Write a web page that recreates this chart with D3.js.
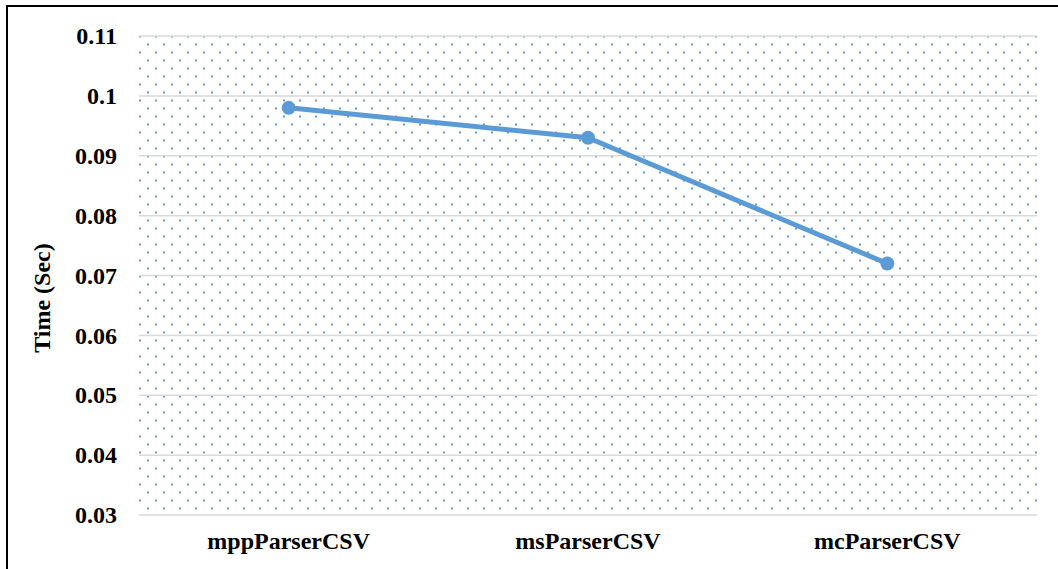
<!DOCTYPE html>
<html>
<head>
    <title>Parser timing</title>
    <script src="https://d3js.org/d3.v7.min.js"></script>
    <style>
        body { margin: 0; background: #fff; }
        text {
            font-family: "Liberation Serif", "Times New Roman", serif;
            font-weight: bold;
            fill: #000;
        }
    </style>
</head>
<body>
<div id="chart"></div>
<script>
    // data
    const parsers = ["mppParserCSV", "msParserCSV", "mcParserCSV"];
    const times = [0.098, 0.093, 0.072];
    const yTicks = [0.03, 0.04, 0.05, 0.06, 0.07, 0.08, 0.09, 0.1, 0.11];

    const width = 1058;
    const height = 569;
    const plot = { left: 139, right: 1037, top: 36, bottom: 515 };
    const blue = "#5b9bd5";

    const svg = d3.select("#chart")
        .append("svg")
        .attr("width", width)
        .attr("height", height);

    // dotted fill pattern for the plot area
    const pat = svg.append("defs")
        .append("pattern")
        .attr("id", "dots")
        .attr("patternUnits", "userSpaceOnUse")
        .attr("x", plot.left)
        .attr("y", plot.top - 0.5)
        .attr("width", 16)
        .attr("height", 16);
    pat.append("rect").attr("x", 0).attr("y", 0).attr("width", 2).attr("height", 2).attr("fill", blue);
    pat.append("rect").attr("x", 8).attr("y", 8).attr("width", 2).attr("height", 2).attr("fill", blue);

    // outer frame (runs off right / bottom edge)
    svg.append("rect")
        .attr("x", 7)
        .attr("y", 6)
        .attr("width", width + 10)
        .attr("height", height + 10)
        .attr("fill", "none")
        .attr("stroke", "#000")
        .attr("stroke-width", 2);

    const x = d3.scaleBand()
        .domain(parsers)
        .range([plot.left, plot.right]);

    const y = d3.scaleLinear()
        .domain([0.03, 0.11])
        .range([plot.bottom, plot.top]);

    svg.append("rect")
        .attr("x", plot.left)
        .attr("y", plot.top)
        .attr("width", plot.right - plot.left)
        .attr("height", plot.bottom - plot.top)
        .attr("fill", "url(#dots)");

    // gridlines
    svg.append("g")
        .selectAll("line")
        .data(yTicks)
        .enter()
        .append("line")
        .attr("x1", plot.left)
        .attr("x2", plot.right)
        .attr("y1", d => y(d))
        .attr("y2", d => y(d))
        .attr("stroke", "#d9d9d9")
        .attr("stroke-width", 1.5);

    // y axis labels
    const yAxis = svg.append("g")
        .attr("transform", `translate(${plot.left}, 0)`)
        .call(d3.axisLeft(y).tickValues(yTicks).tickSize(0).tickPadding(22).tickFormat(d => String(+d.toFixed(2))));
    yAxis.select(".domain").remove();
    yAxis.selectAll("text")
        .attr("font-family", null)
        .style("font-size", "24px")
        .attr("fill", "#000");

    // x axis labels
    const xAxis = svg.append("g")
        .attr("transform", `translate(0, ${plot.bottom})`)
        .call(d3.axisBottom(x).tickSize(0).tickPadding(17));
    xAxis.select(".domain").remove();
    xAxis.selectAll("text")
        .attr("font-family", null)
        .style("font-size", "24px")
        .attr("fill", "#000");

    svg.append("text")
        .attr("transform", "translate(50, 298) rotate(-90)")
        .attr("text-anchor", "middle")
        .style("font-size", "24px")
        .text("Time (Sec)");

    const pts = parsers.map((p, i) => [x(p) + x.bandwidth() / 2, y(times[i])]);

    svg.append("path")
        .attr("d", d3.line()(pts))
        .attr("fill", "none")
        .attr("stroke", blue)
        .attr("stroke-width", 5)
        .attr("stroke-linejoin", "round")
        .attr("stroke-linecap", "round");

    svg.append("g")
        .selectAll("circle")
        .data(pts)
        .enter()
        .append("circle")
        .attr("cx", d => d[0])
        .attr("cy", d => d[1])
        .attr("r", 7)
        .attr("fill", blue);
</script>
</body>
</html>
